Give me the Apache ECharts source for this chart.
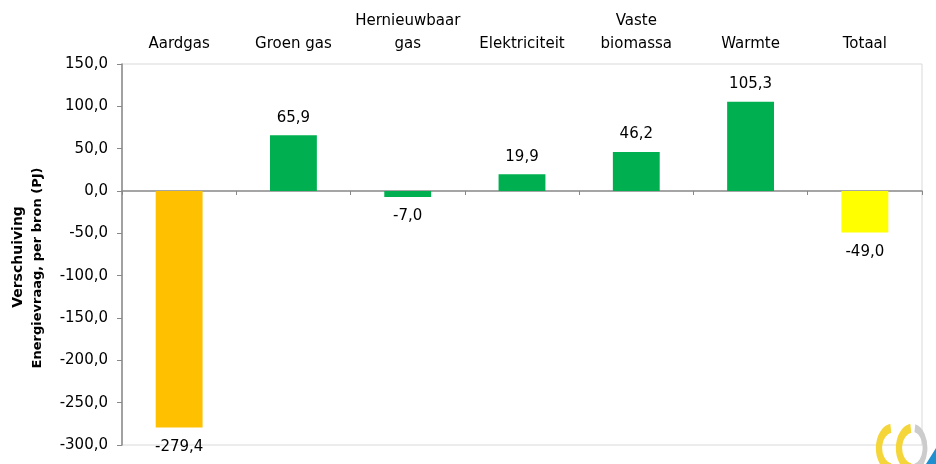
<!DOCTYPE html>
<html><head><meta charset="utf-8">
<script src="https://cdn.jsdelivr.net/npm/echarts@6/dist/echarts.min.js"></script>
<style>html,body{margin:0;padding:0;background:#fff}#c{width:936px;height:464px}</style>
</head><body><div id="c"></div>
<script>
const categories = ['Aardgas', 'Groen gas', 'Hernieuwbaar\ngas', 'Elektriciteit', 'Vaste\nbiomassa', 'Warmte', 'Totaal'];
const values = [-279.4, 65.9, -7.0, 19.9, 46.2, 105.3, -49.0];
const barColors = ['#FFC000', '#00B050', '#00B050', '#00B050', '#00B050', '#00B050', '#FFFF00'];
const yTicks = { min: -300, max: 150, interval: 50 };
const yNameLines = ['Verschuiving', 'Energievraag, per bron (PJ)'];

const FONT = 'DejaVu Sans';
const fmt = v => v.toFixed(1).replace('.', ',');
const gridRect = { left: 122, right: 14, top: 64, bottom: 19, outerBoundsMode: 'none', containLabel: false };

const chart = echarts.init(document.getElementById('c'), null, { renderer: 'canvas' });
chart.setOption({
  animation: false,
  textStyle: { fontFamily: FONT },
  grid: [
    Object.assign({ show: true, borderColor: '#d9d9d9', borderWidth: 1 }, gridRect),
    Object.assign({ show: false }, gridRect)
  ],
  xAxis: [
    {
      gridIndex: 0, type: 'category', data: categories, position: 'top',
      axisLine: { show: false }, axisTick: { show: false },
      axisLabel: { interval: 0, color: '#000', fontSize: 15, fontFamily: FONT, margin: 8, lineHeight: 23 }
    },
    {
      gridIndex: 1, type: 'category', data: categories, position: 'bottom',
      axisLine: { show: true, onZero: true, lineStyle: { color: '#888', width: 1.5 } },
      axisTick: { show: true, length: 4, lineStyle: { color: '#888' } },
      axisLabel: { show: false }
    }
  ],
  yAxis: [
    {
      gridIndex: 0, type: 'value', min: yTicks.min, max: yTicks.max, interval: yTicks.interval,
      splitLine: { show: false },
      axisLine: { show: true, lineStyle: { color: '#888', width: 1.5 } },
      axisTick: { show: true, length: 5, lineStyle: { color: '#888' } },
      axisLabel: { color: '#000', fontSize: 15, fontFamily: FONT, margin: 14, formatter: v => fmt(v) }
    },
    {
      gridIndex: 1, type: 'value', min: yTicks.min, max: yTicks.max, interval: yTicks.interval,
      show: false, splitLine: { show: false }
    }
  ],
  series: [{
    type: 'bar', xAxisIndex: 0, yAxisIndex: 0, barWidth: '41%',
    data: values.map((v, i) => ({
      value: v,
      itemStyle: { color: barColors[i] },
      label: { show: true, position: v >= 0 ? 'top' : 'bottom', distance: v >= 0 ? 10 : 12, color: '#000', fontSize: 15, fontFamily: FONT, formatter: fmt(v) }
    }))
  }],
  graphic: [
    { type: 'text', x: 18, y: 257, rotation: Math.PI / 2, style: { text: yNameLines[0], font: 'bold 14px "DejaVu Sans"', fill: '#000', align: 'center', verticalAlign: 'middle' } },
    { type: 'text', x: 38, y: 268, rotation: Math.PI / 2, style: { text: yNameLines[1], font: 'bold 13px "DejaVu Sans"', fill: '#000', align: 'center', verticalAlign: 'middle' } },
    { type: 'arc', shape: { cx: 893, cy: 448, r: 20, startAngle: Math.PI * 0.55, endAngle: Math.PI * 1.45 }, scaleX: 0.7, originX: 893, originY: 448, style: { stroke: '#F5D63A', lineWidth: 9, fill: null } },
    { type: 'arc', shape: { cx: 913, cy: 448, r: 20, startAngle: Math.PI * 0.55, endAngle: Math.PI * 1.45 }, scaleX: 0.7, originX: 913, originY: 448, style: { stroke: '#F5D63A', lineWidth: 9, fill: null } },
    { type: 'arc', shape: { cx: 913, cy: 448, r: 20, startAngle: -Math.PI * 0.45, endAngle: Math.PI * 0.45 }, scaleX: 0.6, originX: 913, originY: 448, style: { stroke: '#CCCCCC', lineWidth: 8, fill: null } },
    { type: 'polygon', shape: { points: [[926, 464], [936, 448], [936, 464]] }, style: { fill: '#1E90D0' } }
  ]
});
</script></body></html>
